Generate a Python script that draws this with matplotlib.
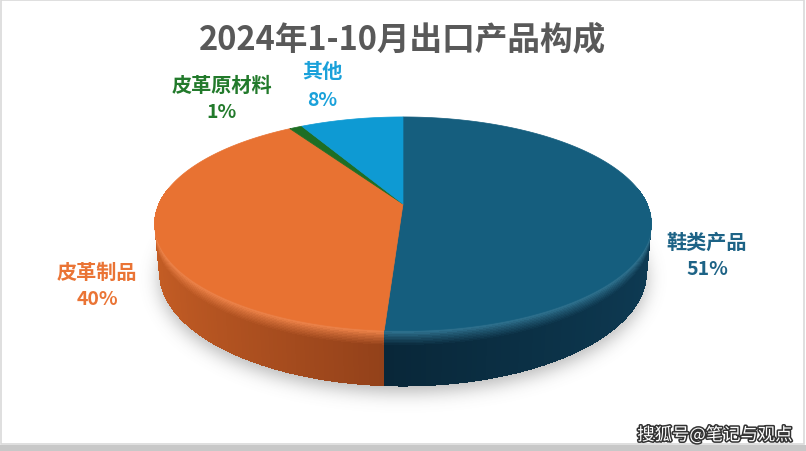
import numpy as np
import matplotlib
matplotlib.use("Agg")
import matplotlib.pyplot as plt
from matplotlib.patches import Polygon, Rectangle
from matplotlib.path import Path
import matplotlib.patheffects as pe
from matplotlib.colors import to_rgb

plt.rcParams['font.family'] = ['Noto Sans CJK SC', 'DejaVu Sans']

# ---- data ----
title = "2024年1-10月出口产品构成"
categories = ["鞋类产品", "皮革制品", "皮革原材料", "其他"]
shares = [51, 40, 1, 8]  # percent
top_colors = ["#155E7E", "#E87232", "#1E6E24", "#0E9AD3"]
side_dark = ["#07202F", "#8A3C18", "#10401A", "#07557A"]
side_light = ["#0E3B54", "#C65E25", "#1A5C20", "#0B7DAE"]
label_colors = ["#1D6386", "#EA7435", "#227A2B", "#1AA1DA"]

W, H = 806, 452
fig = plt.figure(figsize=(W / 100, H / 100), dpi=100)
ax = fig.add_axes([0, 0, 1, 1])
ax.set_xlim(0, W)
ax.set_ylim(H, 0)
ax.axis("off")

# ---- 3D disc projection (perspective camera) ----
elev = np.radians(25)
ce, se = np.cos(elev), np.sin(elev)
D = 4.9          # camera distance (disc radius = 1)
S = 1196.0       # screen scale
cx, cy = 403.0, 205.0
thick = 0.22


def proj(phi, y, r=1.0):
    X = r * np.sin(phi)
    Z = r * np.cos(phi)
    yc = y * ce + Z * se
    depth = D + Z * ce - y * se
    return cx + S * X / depth, cy - S * yc / depth


def mix(a, b, t):
    return a + (b - a) * t


# slice angles, clockwise from the back of the disc
fr = np.array(shares, dtype=float) / sum(shares)
edges = np.concatenate([[0], np.cumsum(fr)]) * 2 * np.pi

# soft drop shadow under the disc
gx, gy = np.meshgrid(np.arange(W) + 0.5, np.arange(H) + 0.5)
phis = np.linspace(0, 2 * np.pi, 361)
bu, bv = proj(phis, -thick, 1.0)
shadow_path = Path(np.column_stack([bu, bv + 6]))
mask = shadow_path.contains_points(np.column_stack([gx.ravel(), gy.ravel()])).reshape(H, W).astype(float)
sig = 9
k = np.exp(-0.5 * (np.arange(-3 * sig, 3 * sig + 1) / sig) ** 2)
k /= k.sum()
blur = np.apply_along_axis(lambda r: np.convolve(r, k, mode="same"), 1, mask)
blur = np.apply_along_axis(lambda c: np.convolve(c, k, mode="same"), 0, blur)
rgba = np.zeros((H, W, 4))
rgba[..., :3] = 0.35
rgba[..., 3] = blur * 0.45
ax.imshow(rgba, extent=(0, W, H, 0), zorder=1, interpolation="bilinear")

# side wall: vertical levels, finer near the rounded top edge
ys = np.concatenate([[0.0, -0.006], np.linspace(-0.012, -0.06, 9), [-thick]])


def bevel_mix(y):
    """0 -> highlight at the rim, 1 -> plain side colour"""
    return np.clip((-y - 0.006) / 0.05, 0, 1) ** 0.8


quads = []
for i in range(len(shares)):
    a0, a1 = edges[i], edges[i + 1]
    n = max(2, int((a1 - a0) / np.radians(1.0)))
    a = np.linspace(a0, a1, n + 1)
    c0 = np.array(to_rgb(side_dark[i]))
    c1 = np.array(to_rgb(side_light[i]))
    ctop = np.array(to_rgb(top_colors[i]))
    chl = mix(ctop, np.ones(3), 0.10)
    for j in range(n):
        p0, p1 = a[j], a[j + 1]
        pm = 0.5 * (p0 + p1)
        if np.cos(pm) > 0.15:
            continue
        if i == 1:
            t = np.clip((-np.sin(pm) + 0.1) / 1.1, 0, 1)
        else:
            t = np.clip(0.3 + 0.7 * np.sin(pm), 0, 1)
        cside = mix(c0, c1, t)
        depth = D + np.cos(pm) * ce
        for s in range(len(ys) - 1):
            ym = 0.5 * (ys[s] + ys[s + 1])
            col = mix(chl, cside, bevel_mix(ym)) if s > 0 else chl
            col = np.clip(col, 0, 1)
            u0, v0 = proj(p0, ys[s])
            u1, v1 = proj(p1, ys[s])
            u2, v2 = proj(p1, ys[s + 1])
            u3, v3 = proj(p0, ys[s + 1])
            quads.append((depth, s, [(u0, v0), (u1, v1), (u2, v2), (u3, v3)], col))
quads.sort(key=lambda q: (-q[0], -q[1]))
for _, _, pts, col in quads:
    ax.add_patch(Polygon(pts, closed=True, facecolor=col, edgecolor="none",
                         antialiased=False, zorder=2))

# top face slices
for i in range(len(shares)):
    a = np.linspace(edges[i], edges[i + 1], 200)
    u, v = proj(a, 0)
    pts = [(cx, cy)] + list(zip(u, v))
    ax.add_patch(Polygon(pts, closed=True, facecolor=top_colors[i],
                         edgecolor=top_colors[i], lw=0.5, zorder=4))

# ---- labels ----
label_pos = [(707, 242), (97, 272), (222, 85), (322, 72)]
for (x, y), name, pct, col in zip(label_pos, categories, shares, label_colors):
    ax.text(x, y, name, color=col, fontsize=14.5, fontweight="bold",
            ha="center", va="center", zorder=6)
    ax.text(x, y + 28, f"{pct}%", color=col, fontsize=14, fontweight="bold",
            ha="center", va="center", zorder=6)

ax.text(403, 40, title, color="#595959", fontsize=23.5, fontweight="bold",
        ha="center", va="center", zorder=6)

# chart frame and footer
ax.add_patch(Rectangle((1, 1), W - 3, H - 8, fill=False, edgecolor="#D9D9D9", lw=1.2, zorder=7))
ax.add_patch(Rectangle((0, H - 6), W, 6, facecolor="#C8C8C8", edgecolor="none", zorder=7))

ax.text(715, 436, "搜狐号@笔记与观点", color="white", fontsize=12.5,
        ha="center", va="center", zorder=8,
        path_effects=[pe.withStroke(linewidth=2.2, foreground="#333333")])

fig.savefig("out.png", dpi=100)
